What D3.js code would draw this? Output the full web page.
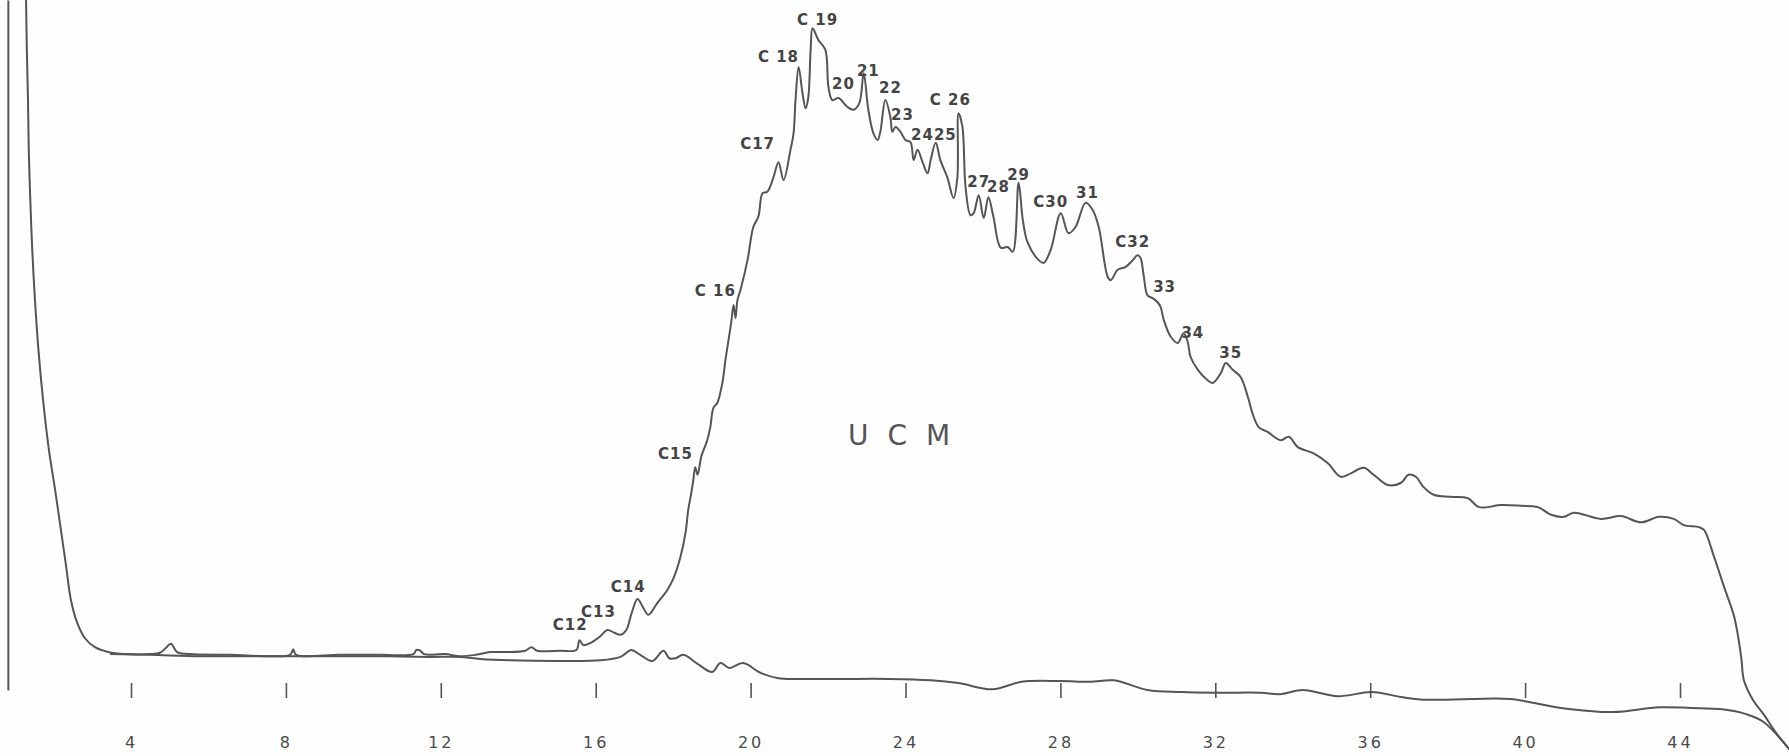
<!DOCTYPE html>
<html>
<head>
<meta charset="utf-8">
<script src="https://cdn.jsdelivr.net/npm/d3@7"></script>
<style>
  html, body { margin: 0; padding: 0; background: #fefefe; }
  .trace { fill: none; stroke: #555; stroke-width: 2; stroke-linejoin: round; }
  .peakLabel { font-family: "DejaVu Sans", sans-serif; font-size: 15px; font-weight: bold; fill: #444; letter-spacing: 1px; }
  .xAxis text { font-family: "DejaVu Sans", sans-serif; font-size: 16px; fill: #4a4a4a; letter-spacing: 3px; }
  .xAxis line { stroke: #555; stroke-width: 1.6; }
  .ucm { font-family: "DejaVu Sans", sans-serif; font-size: 28px; fill: #555; letter-spacing: 5px; }
</style>
</head>
<body>
<div id="chart"></div>
<script>

// retention time (min) ticks printed under the trace
var timeTicks = [4, 8, 12, 16, 20, 24, 28, 32, 36, 40, 44];

// sample run (with UCM hump): retention time and detector response (% full scale)
var sampleTime = [1.26, 1.29, 1.31, 1.34, 1.36, 1.40, 1.45, 1.52, 1.61, 1.73, 1.88, 2.04, 2.19, 2.32, 2.45, 2.60,
  2.81, 3.07, 3.41, 3.85,
  4.49, 4.75, 4.90, 5.03, 5.19, 5.52, 6.56, 7.59, 8.11, 8.19, 8.26, 9.40, 10.43, 11.29, 11.37, 11.47, 11.57, 12.11,
  12.50, 12.91, 13.28, 13.66, 14.18, 14.34, 14.49, 15.09, 15.50, 15.58, 15.68, 15.86, 16.12, 16.30, 16.48, 16.64,
  16.79, 16.92, 17.08, 17.23, 17.36, 17.59, 17.85, 18.01, 18.19, 18.32, 18.39, 18.47, 18.52, 18.57, 18.63, 18.73,
  18.88, 18.96, 19.04, 19.14, 19.27, 19.35, 19.43, 19.50, 19.56, 19.61, 19.66, 19.74, 19.92, 20.07, 20.20, 20.31,
  20.43, 20.59, 20.72, 20.85, 21.03, 21.11, 21.16, 21.24, 21.34, 21.42, 21.49, 21.55, 21.60, 21.75, 21.93, 22.01,
  22.11, 22.27, 22.50, 22.66, 22.81, 22.92, 23.04, 23.17, 23.28, 23.35, 23.48, 23.61, 23.66, 23.74, 23.87, 24.00,
  24.13, 24.21, 24.31, 24.44, 24.57, 24.65, 24.78, 24.90, 25.08, 25.24, 25.34, 25.37, 25.47, 25.55, 25.68, 25.76,
  25.89, 26.02, 26.14, 26.27, 26.46, 26.64, 26.77, 26.92, 27.03, 27.15, 27.44, 27.57, 27.75, 28.01, 28.21, 28.39,
  28.65, 28.83, 28.99, 29.22, 29.30, 29.48, 29.68, 29.87, 29.99, 30.07, 30.15, 30.25, 30.38, 30.51, 30.59, 30.67,
  30.85, 31.03, 31.18, 31.29, 31.36, 31.55, 31.80, 31.93, 32.14, 32.27, 32.45, 32.65, 32.84, 32.96, 33.12, 33.35,
  33.69, 33.90, 34.13, 34.54, 34.90, 35.24, 35.50, 35.83, 36.09, 36.45, 36.79, 36.99, 37.18, 37.38, 37.64, 38.08,
  38.52, 38.81, 39.38, 39.89, 40.33, 40.67, 41.00, 41.26, 41.96, 42.48, 42.99, 43.46, 43.84, 44.10, 44.49, 44.62,
  44.88, 45.14, 45.40, 45.58, 45.65, 45.88, 46.17, 46.48, 46.84];

var sampleResp = [105.8, 100, 92.8, 85.5, 78.3, 71.0, 63.8, 56.5, 49.3, 42.0, 34.8, 29.0, 23.2, 18.1, 13.0, 9.9,
  7.5, 6.2, 5.5, 5.2,
  5.2, 5.4, 6.1, 6.7, 5.5, 5.2, 5.1, 4.9, 5.1, 5.9, 5.1, 5.1, 5.1, 5.2, 5.8, 5.7, 5.2, 5.2,
  4.9, 5.1, 5.5, 5.5, 5.7, 6.2, 5.7, 5.7, 5.8, 7.2, 6.5, 6.8, 7.8, 8.7, 8.3, 8.0,
  8.7, 11.0, 13.2, 11.9, 10.9, 12.6, 14.5, 16.2, 19.3, 22.8, 26.1, 28.6, 30.4, 32.3, 31.2, 33.9,
  36.2, 38.1, 40.9, 41.6, 44.5, 47.8, 50.7, 53.3, 55.8, 53.9, 56.5, 58.0, 62.3, 67.1, 68.6, 72.0,
  72.2, 74.3, 76.5, 73.9, 78.3, 80.7, 85.5, 90.3, 86.5, 84.3, 85.9, 92.8, 95.9, 94.2, 92.8, 87.4,
  85.5, 85.8, 84.5, 84.1, 85.1, 89.4, 84.1, 80.7, 79.7, 80.9, 85.5, 83.0, 80.9, 81.6, 80.9, 79.7,
  79.4, 76.8, 78.3, 76.5, 74.9, 76.8, 79.3, 76.8, 74.3, 71.3, 74.3, 83.6, 81.6, 72.9, 68.8, 69.1,
  71.7, 68.4, 71.4, 68.6, 64.1, 64.2, 63.5, 73.5, 68.1, 64.9, 62.3, 61.9, 63.8, 69.1, 66.2, 67.1,
  70.6, 69.6, 67.1, 59.9, 59.4, 60.9, 61.3, 62.3, 63.0, 62.6, 60.1, 57.2, 56.8, 56.2, 55.5, 53.6,
  51.2, 50.3, 51.7, 50.4, 48.3, 46.4, 44.9, 44.5, 45.9, 47.4, 46.4, 45.4, 42.5, 40.1, 38.1, 37.4,
  36.2, 36.7, 35.2, 34.3, 32.9, 30.9, 31.4, 32.2, 31.2, 29.7, 30.0, 31.2, 30.9, 29.4, 28.3, 28.0,
  27.8, 26.5, 26.8, 26.7, 26.5, 25.4, 25.1, 25.7, 24.8, 25.2, 24.3, 25.1, 24.8, 23.9, 23.6, 23.2,
  19.3, 14.9, 10.6, 4.8, 1.4, -1.4, -3.6, -6.2, -8.7];

// blank / baseline run drawn on the same paper
var blankTime = [3.46, 4.49, 5.78, 7.33, 8.88, 10.43, 11.72, 12.50, 13.02, 13.79, 15.09, 16.12, 16.64, 16.92,
  17.15, 17.46, 17.75, 17.90, 18.06, 18.26, 18.63, 19.01, 19.22, 19.45, 19.81, 20.25, 20.72, 21.29, 22.32,
  23.59, 24.65, 25.37, 26.25, 27.00, 28.01, 28.78, 29.38, 30.25, 31.11, 32.05, 33.17, 33.67, 34.26, 35.16,
  36.04, 36.79, 37.38, 38.60, 39.61, 40.92, 42.27, 43.46, 44.28, 45.09, 45.71, 46.15, 46.84];

var blankResp = [5.2, 5.1, 4.9, 4.9, 4.9, 4.9, 4.8, 4.8, 4.5, 4.3, 4.2, 4.3, 4.8, 5.8,
  5.1, 4.2, 5.7, 4.6, 4.6, 5.1, 3.8, 2.6, 3.9, 3.2, 3.9, 2.5, 1.7, 1.6, 1.6,
  1.6, 1.4, 1.0, 0.1, 1.2, 1.3, 1.2, 1.4, 0.0, -0.3, -0.4, -0.4, -0.6, 0.0, -0.9,
  -0.3, -1.0, -1.4, -1.3, -1.3, -2.6, -3.2, -2.5, -2.6, -2.8, -3.5, -4.6, -8.7];

// n-alkane peak labels: text, label time, label response
var peakNames = ["C12", "C13", "C14", "C15", "C 16", "C17", "C 18", "C 19", "20", "21", "22", "23", "24", "25",
  "C 26", "27", "28", "29", "C30", "31", "C32", "33", "34", "35"];
var peakTimes = [15.34, 16.07, 16.84, 18.06, 19.09, 20.18, 20.72, 21.73, 22.40, 23.04, 23.61, 23.92, 24.44, 25.03,
  25.16, 25.89, 26.40, 26.92, 27.75, 28.70, 29.87, 30.69, 31.42, 32.40];
var peakResp = [9.3, 11.3, 14.9, 34.1, 57.7, 79.0, 91.7, 97.1, 87.7, 89.6, 87.2, 83.3, 80.4, 80.4,
  85.5, 73.5, 72.8, 74.6, 70.6, 72.0, 64.8, 58.3, 51.7, 48.8];

var ucmLabel = { text: "U C M", t: 23.9, r: 36.7 };

var width = 1789,
  height = 756;

var x = d3.scaleLinear().domain([4, 44]).range([131, 1680]);
var y = d3.scaleLinear().domain([0, 100]).range([690, 0]);

var svg = d3.select("#chart").append("svg")
  .attr("width", width)
  .attr("height", height);

svg.append("defs").append("clipPath")
  .attr("id", "paper")
  .append("rect")
  .attr("width", width)
  .attr("height", height);

var line = d3.line()
  .curve(d3.curveCatmullRom.alpha(0.5))
  .x(function(d) { return x(d[0]); })
  .y(function(d) { return y(d[1]); });

var sample = d3.zip(sampleTime, sampleResp);
var blank = d3.zip(blankTime, blankResp);

// left pen line (injection edge)
svg.append("g")
  .attr("class", "yAxis")
  .attr("transform", "translate(" + x(0.82) + ",0)")
  .call(d3.axisLeft(y).tickValues([]).tickSizeOuter(0))
  .select(".domain")
  .attr("stroke", "#555")
  .attr("stroke-width", 2);

// blank run first, sample on top
svg.append("path")
  .datum(blank)
  .attr("class", "trace")
  .attr("clip-path", "url(#paper)")
  .attr("d", line);

svg.append("path")
  .datum(sample)
  .attr("class", "trace")
  .attr("clip-path", "url(#paper)")
  .attr("d", line);

// time axis: tick marks only, no domain line
var xAxis = svg.append("g")
  .attr("class", "xAxis")
  .attr("transform", "translate(0," + 683 + ")")
  .call(d3.axisBottom(x).tickValues(timeTicks).tickSize(15).tickPadding(39));
xAxis.select(".domain").remove();

// peak labels
svg.selectAll(".peakLabel")
  .data(d3.range(peakNames.length))
  .enter().append("text")
  .attr("class", "peakLabel")
  .attr("text-anchor", "middle")
  .attr("dominant-baseline", "middle")
  .attr("x", function(i) { return x(peakTimes[i]); })
  .attr("y", function(i) { return y(peakResp[i]); })
  .text(function(i) { return peakNames[i]; });

svg.append("text")
  .attr("class", "ucm")
  .attr("text-anchor", "middle")
  .attr("dominant-baseline", "middle")
  .attr("x", x(ucmLabel.t))
  .attr("y", y(ucmLabel.r))
  .text(ucmLabel.text);

</script>
</body>
</html>
